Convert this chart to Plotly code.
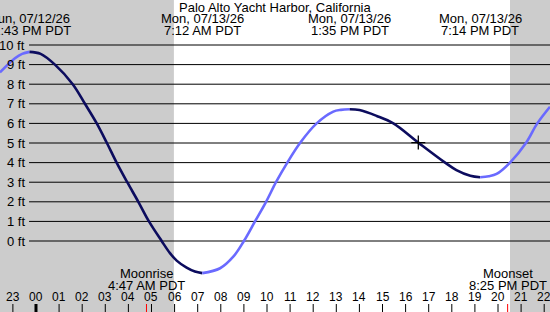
import plotly.graph_objects as go

# ---------------- data ----------------
title_text = "Palo Alto Yacht Harbor, California"

# tide curve (hours from Mon 00:00, feet)
tide_hours = [-1.56, -0.91, -0.6, -0.28, 0.2, 0.82, 1.59, 2.12, 2.63, 3.07, 3.49,
              3.95, 4.43, 4.89, 5.44, 5.8, 6.09, 6.52, 6.88, 7.2, 7.97, 8.54, 9.0,
              9.48, 9.96, 10.39, 10.88, 11.43, 12.15, 12.87, 13.2, 13.58, 14.0,
              14.75, 15.47, 16.55, 17.71, 18.2, 18.8, 19.23, 19.6, 19.94, 20.52,
              21.21, 21.7, 22.25]
tide_feet = [8.6, 9.32, 9.55, 9.65, 9.55, 9.0, 8.0, 7.0, 6.0, 5.0, 4.0,
             3.0, 2.0, 1.0, 0.0, -0.62, -1.0, -1.36, -1.56, -1.64, -1.39, -0.8, 0.0,
             1.0, 2.0, 3.0, 4.0, 5.0, 6.0, 6.6, 6.69, 6.72, 6.68,
             6.38, 6.0, 5.02, 4.0, 3.62, 3.33, 3.25, 3.3, 3.42, 4.0,
             5.0, 6.0, 6.85]

# extremes shown at the top
event_hours = [-0.283, 7.2, 13.583, 19.233]
event_dates = ["Sun, 07/12/26", "Mon, 07/13/26", "Mon, 07/13/26", "Mon, 07/13/26"]
event_times = ["11:43 PM PDT", "7:12 AM PDT", "1:35 PM PDT", "7:14 PM PDT"]

# moon events
moon_hours = [4.783, 20.417]
moon_names = ["Moonrise", "Moonset"]
moon_times = ["4:47 AM PDT", "8:25 PM PDT"]

# daylight
sunrise_hour = 5.97
sunset_hour = 20.52

# current time marker
now_hour = 16.55
now_feet = 5.02

# axes
feet_levels = list(range(0, 11))
feet_labels = [f"{v} ft" for v in feet_levels]
tick_hours = list(range(-1, 23))
tick_labels = ["23"] + [f"{h:02d}" for h in range(0, 23)]

# ---------------- figure ----------------
W, H = 550, 312
X0, X1 = -1.558, 22.251      # hour range across the window
Y0, Y1 = -3.622, 12.296      # feet range across the window
GRID_START = -0.30
FONT = "Liberation Sans, Arial, sans-serif"
DARK = "#0c0c5e"
LIGHT = "#6a6aff"


def py(pix):
    """pixel row -> paper y"""
    return 1 - pix / H


fig = go.Figure()

# split the tide curve into rising / falling runs
segments = []
cur = [0]
direction = None
for i in range(1, len(tide_hours)):
    d = tide_feet[i] > tide_feet[i - 1]
    if direction is None or d == direction:
        cur.append(i)
    else:
        segments.append((direction, cur))
        cur = [i - 1, i]
    direction = d
segments.append((direction, cur))

for rising, idx in segments:
    fig.add_trace(go.Scatter(
        x=[tide_hours[i] for i in idx],
        y=[tide_feet[i] for i in idx],
        mode="lines",
        line=dict(color=LIGHT if rising else DARK, width=2.6, shape="spline", smoothing=1.0),
        hoverinfo="skip", showlegend=False,
    ))

fig.add_trace(go.Scatter(
    x=[now_hour], y=[now_feet], mode="markers",
    marker=dict(symbol="cross-thin", size=10, line=dict(color="black", width=1.3)),
    hoverinfo="skip", showlegend=False,
))

shapes = []
# night shading
shapes.append(dict(type="rect", xref="x", yref="paper", x0=X0 - 1, x1=sunrise_hour,
                   y0=0, y1=1, fillcolor="#cccccc", line=dict(width=0), layer="below"))
shapes.append(dict(type="rect", xref="x", yref="paper", x0=sunset_hour, x1=X1 + 1,
                   y0=0, y1=1, fillcolor="#cccccc", line=dict(width=0), layer="below"))
# horizontal lines
for v in feet_levels:
    shapes.append(dict(type="line", xref="x", yref="y", x0=GRID_START, x1=X1 + 1,
                       y0=v, y1=v, line=dict(color="black", width=1), layer="below"))
# hour ticks
for h in tick_hours:
    shapes.append(dict(type="line", xref="x", yref="paper", x0=h, x1=h,
                       y0=0, y1=py(304), line=dict(color="black", width=3 if h == 0 else 1)))
# moon ticks
for h in moon_hours:
    shapes.append(dict(type="line", xref="x", yref="paper", x0=h, x1=h,
                       y0=0, y1=py(304), line=dict(color="red", width=1)))

annotations = []
fs = 13
annotations.append(dict(text=title_text, xref="paper", yref="paper", x=0.5, y=py(7.5),
                        showarrow=False, xanchor="center", yanchor="middle",
                        font=dict(size=fs, family=FONT, color="black")))
for h, d, t in zip(event_hours, event_dates, event_times):
    annotations.append(dict(text=d, xref="x", yref="paper", x=h, y=py(18.5),
                            showarrow=False, xanchor="center", yanchor="middle",
                            font=dict(size=fs, family=FONT, color="black")))
    annotations.append(dict(text=t, xref="x", yref="paper", x=h, y=py(30.5),
                            showarrow=False, xanchor="center", yanchor="middle",
                            font=dict(size=fs, family=FONT, color="black")))
for h, n, t in zip(moon_hours, moon_names, moon_times):
    annotations.append(dict(text=n, xref="x", yref="paper", x=h, y=py(273.5),
                            showarrow=False, xanchor="center", yanchor="middle",
                            font=dict(size=fs, family=FONT, color="black")))
    annotations.append(dict(text=t, xref="x", yref="paper", x=h, y=py(285),
                            showarrow=False, xanchor="center", yanchor="middle",
                            font=dict(size=fs, family=FONT, color="black")))
for h, lab in zip(tick_hours, tick_labels):
    annotations.append(dict(text=lab, xref="x", yref="paper", x=h, y=py(297),
                            showarrow=False, xanchor="center", yanchor="middle",
                            font=dict(size=12, family=FONT, color="black")))
for v, lab in zip(feet_levels, feet_labels):
    annotations.append(dict(text=lab, xref="paper", yref="y", x=27 / W, y=v,
                            showarrow=False, xanchor="right", yanchor="middle",
                            font=dict(size=fs, family=FONT, color="black")))

fig.update_layout(
    width=W, height=H,
    margin=dict(l=0, r=0, t=0, b=0),
    paper_bgcolor="white", plot_bgcolor="white",
    xaxis=dict(range=[X0, X1], visible=False, fixedrange=True),
    yaxis=dict(range=[Y0, Y1], visible=False, fixedrange=True),
    shapes=shapes, annotations=annotations,
    showlegend=False,
)

fig.write_html("out.html")
